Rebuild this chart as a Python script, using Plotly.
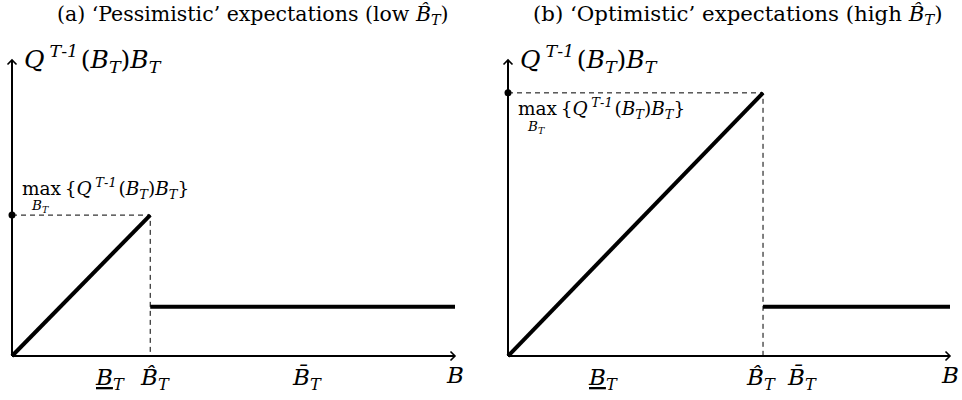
import plotly.graph_objects as go

W, H = 962, 400

# Schematic values in arbitrary units; both axes run from 0 to the arrow tip at 100
titles = [
    "(a) ‘Pessimistic’ expectations (low <i>B̂</i><sub><i>T</i></sub>)",
    "(b) ‘Optimistic’ expectations (high <i>B̂</i><sub><i>T</i></sub>)",
]
b_hat = [31.2, 57.7]        # expected threshold B̂_T
peak = [47.6, 88.9]         # max of Q^{T-1}(B_T) B_T, reached at B̂_T
b_low = [22.1, 21.5]        # position of the lower bound label
b_bar = [66.6, 66.5]        # position of the upper bound label
flat_level = [16.6, 16.6]   # value after the threshold
axis_end = 100

# pixel placement of each panel's axes
origin_px = [12, 508]
tip_px = [455, 950]
y0_px, ytip_px = 356, 60

# title centres and sizes per panel
title_x_px = [253, 738]
title_size = [20.5, 21.3]

FONT = "DejaVu Serif"
BLACK = "#000000"
QB = ("<i>Q</i>\u2009<sup><i>T</i>-<i>1</i></sup>\u200a(<i>B</i><sub><i>T</i></sub>)"
      "<i>B</i><sub><i>T</i></sub>")

fig = go.Figure()
layout = dict(
    width=W, height=H, margin=dict(l=0, r=0, t=0, b=0),
    paper_bgcolor="white", plot_bgcolor="white", showlegend=False,
)

sy = (y0_px - ytip_px) / axis_end
yrange = [(y0_px - H) / sy, y0_px / sy]

annotations = []
for i in range(2):
    xa = "x" if i == 0 else "x2"
    ya = "y" if i == 0 else "y2"
    d0, d1 = i * W / 2, (i + 1) * W / 2
    sx = (tip_px[i] - origin_px[i]) / axis_end
    xrange = [(d0 - origin_px[i]) / sx, (d1 - origin_px[i]) / sx]
    xkey = "xaxis" if i == 0 else "xaxis2"
    ykey = "yaxis" if i == 0 else "yaxis2"
    layout[xkey] = dict(domain=[d0 / W, d1 / W], range=xrange, visible=False, fixedrange=True)
    layout[ykey] = dict(domain=[0, 1], range=yrange, visible=False, fixedrange=True,
                        anchor=xa)
    if i == 1:
        layout[xkey]["anchor"] = "y2"

    ahx, ahy = 4.5 / sx, 4.5 / sy  # arrowhead size in data units

    def add(x, y, width, dash="solid", mode="lines", **kw):
        fig.add_trace(go.Scatter(x=x, y=y, mode=mode, xaxis=xa, yaxis=ya,
                                 line=dict(color=BLACK, width=width, dash=dash),
                                 hoverinfo="skip", **kw))

    # axes with open arrow tips
    add([0, axis_end], [0, 0], 2)
    add([0, 0], [0, axis_end], 2)
    add([axis_end - ahx, axis_end, axis_end - ahx], [ahy, 0, -ahy], 1.6)
    add([-ahx, 0, ahx], [axis_end - ahy, axis_end, axis_end - ahy], 1.6)

    # guide lines to the maximum
    add([0, b_hat[i], b_hat[i]], [peak[i], peak[i], 0], 1, dash="5px,4px")

    # payoff: rising up to B̂_T, then dropping to a flat level
    add([0, b_hat[i]], [0, peak[i]], 4)
    add([b_hat[i], axis_end], [flat_level[i], flat_level[i]], 4)

    # dot marking the maximum on the vertical axis
    fig.add_trace(go.Scatter(x=[0], y=[peak[i]], mode="markers", xaxis=xa, yaxis=ya,
                             marker=dict(color=BLACK, size=7), hoverinfo="skip"))

    # panel title
    annotations.append(dict(text=titles[i], xref="paper", yref="paper",
                            x=title_x_px[i] / W,
                            y=1 - 15 / H, xanchor="center", yanchor="middle",
                            showarrow=False,
                            font=dict(family=FONT, size=title_size[i], color=BLACK)))

    # vertical axis label
    annotations.append(dict(text=QB,
                            xref=xa, yref=ya, x=10 / sx, y=axis_end + 1 / sy,
                            xanchor="left", yanchor="middle", showarrow=False,
                            font=dict(family=FONT, size=25, color=BLACK)))

    # label of the maximum
    if i == 0:
        my = peak[i] + 27 / sy
    else:
        my = peak[i] - 16 / sy
    annotations.append(dict(text="max\u2009{" + QB + "}",
                            xref=xa, yref=ya, x=8 / sx, y=my,
                            xanchor="left", yanchor="middle", showarrow=False,
                            font=dict(family=FONT, size=18.5, color=BLACK)))
    annotations.append(dict(text="<i>B</i><sub><i>T</i></sub>",
                            xref=xa, yref=ya, x=17 / sx, y=my - 18 / sy,
                            xanchor="left", yanchor="middle", showarrow=False,
                            font=dict(family=FONT, size=13.5, color=BLACK)))

    # labels along the horizontal axis
    ly = 1 - 379 / H
    tick_font = dict(family=FONT, size=23, color=BLACK)
    annotations.append(dict(text="<u><i>B</i></u><sub><i>T</i></sub>", xref=xa, yref="paper",
                            x=b_low[i], y=ly, xanchor="center", yanchor="middle",
                            showarrow=False, font=tick_font))
    annotations.append(dict(text="<i>B̂</i><sub><i>T</i></sub>", xref=xa, yref="paper",
                            x=b_hat[i], y=ly, xanchor="center", yanchor="middle",
                            xshift=5 if i == 0 else -2,
                            showarrow=False, font=tick_font))
    annotations.append(dict(text="<i>B̄</i><sub><i>T</i></sub>", xref=xa, yref="paper",
                            x=b_bar[i], y=ly, xanchor="center", yanchor="middle",
                            showarrow=False, font=tick_font))
    annotations.append(dict(text="<i>B</i>", xref=xa, yref="paper",
                            x=axis_end, y=1 - 375 / H, xanchor="center", yanchor="middle",
                            showarrow=False, font=tick_font))

layout["annotations"] = annotations
fig.update_layout(**layout)
fig.write_html("out.html", config={"displayModeBar": False})
